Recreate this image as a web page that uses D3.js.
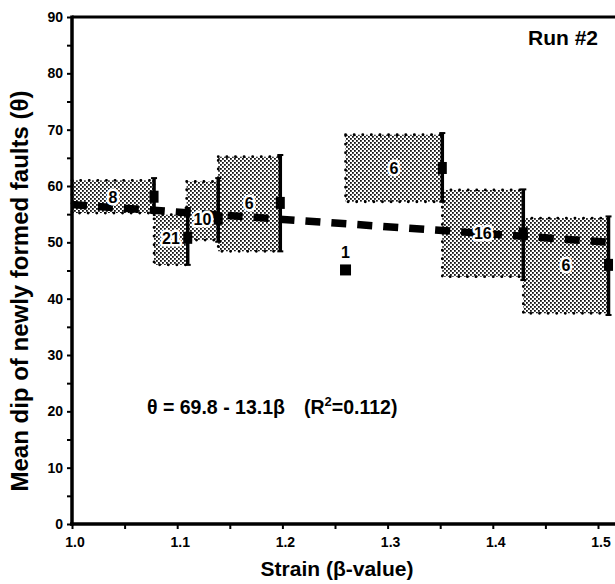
<!DOCTYPE html>
<html>
<head>
<meta charset="utf-8">
<script src="https://cdn.jsdelivr.net/npm/d3@7"></script>
<style>
  html, body { margin: 0; padding: 0; background: #fff; }
  svg { display: block; font-family: "Liberation Sans", Arial, Helvetica, sans-serif; font-weight: bold; }
</style>
</head>
<body>
<div id="chart"></div>
<script>
// Strain bins (β-value), box extents (θ), error bars, means, sample counts
var binStart = [1.000, 1.078, 1.109, 1.139, 1.260, 1.352, 1.429];
var binEnd   = [1.078, 1.110, 1.139, 1.198, 1.352, 1.429, 1.510];
var boxLow   = [55.2, 46.0, 50.4, 48.4, 57.2, 43.9, 37.4];
var boxHigh  = [61.0, 54.9, 60.8, 65.2, 69.1, 59.3, 54.3];
var errLow   = [55.2, 46.0, 50.1, 48.4, 57.2, 43.3, 37.1];
var errHigh  = [61.4, 56.1, 61.4, 65.5, 69.4, 59.4, 54.6];
var meanDip  = [58.1, 50.8, 54.2, 57.0, 63.2, 51.6, 46.0];
var counts   = ["8", "21", "10", "6", "6", "16", "6"];

// single-fault point
var singleBeta = [1.26];
var singleDip  = [45.1];
var singleCount = ["1"];

// regression θ = 69.8 - 13.1β
var fitIntercept = 69.8, fitSlope = -13.1;
var fitBeta = [1.0, 1.52];

var yTicks = [0, 10, 20, 30, 40, 50, 60, 70, 80, 90];
var xTicks = [1.0, 1.1, 1.2, 1.3, 1.4, 1.5];

var W = 615, H = 584;
var svg = d3.select("#chart").append("svg").attr("width", W).attr("height", H);

var x = d3.scaleLinear().domain([1.0, 1.5]).range([72, 598]);
var y = d3.scaleLinear().domain([0, 90]).range([524, 17]);

// stipple pattern
var defs = svg.append("defs");
var pat = defs.append("pattern").attr("id", "stip")
    .attr("patternUnits", "userSpaceOnUse").attr("width", 4).attr("height", 4);
pat.append("rect").attr("width", 4).attr("height", 4).attr("fill", "#fff");
pat.append("rect").attr("x", 0).attr("y", 0).attr("width", 1.8).attr("height", 1.8).attr("fill", "#111");
pat.append("rect").attr("x", 2).attr("y", 2).attr("width", 1.8).attr("height", 1.8).attr("fill", "#111");

var bins = binStart.map(function (b, i) {
    return { x0: b, x1: binEnd[i], lo: boxLow[i], hi: boxHigh[i],
             elo: errLow[i], ehi: errHigh[i], mean: meanDip[i], n: counts[i] };
});

// boxes
svg.append("g").selectAll("rect").data(bins).enter().append("rect")
    .attr("x", function (d) { return x(d.x0); })
    .attr("y", function (d) { return y(d.hi); })
    .attr("width", function (d) { return x(d.x1) - x(d.x0); })
    .attr("height", function (d) { return y(d.lo) - y(d.hi); })
    .attr("fill", "url(#stip)")
    .attr("stroke", "#000").attr("stroke-width", 2.8)
    .attr("stroke-linecap", "round")
    .attr("stroke-dasharray", "0.1,8.5");

// regression line
svg.append("path")
    .datum(fitBeta.map(function (b) { return [b, fitIntercept + fitSlope * b]; }))
    .attr("d", d3.line().x(function (d) { return x(d[0]); }).y(function (d) { return y(d[1]); }))
    .attr("fill", "none").attr("stroke", "#000")
    .attr("stroke-width", 7.5).attr("stroke-dasharray", "15,11");

// error bars
var eb = svg.append("g").selectAll("g").data(bins).enter().append("g");
eb.append("line")
    .attr("x1", function (d) { return x(d.x1); }).attr("x2", function (d) { return x(d.x1); })
    .attr("y1", function (d) { return y(d.ehi); }).attr("y2", function (d) { return y(d.elo); })
    .attr("stroke", "#000").attr("stroke-width", 3.5);
eb.selectAll(".cap").data(function (d) { return [[d.x1, d.ehi], [d.x1, d.elo]]; })
    .enter().append("line")
    .attr("x1", function (d) { return x(d[0]) - 3; }).attr("x2", function (d) { return x(d[0]) + 3; })
    .attr("y1", function (d) { return y(d[1]); }).attr("y2", function (d) { return y(d[1]); })
    .attr("stroke", "#000").attr("stroke-width", 2);

// mean markers
svg.append("g").selectAll("rect").data(bins).enter().append("rect")
    .attr("x", function (d) { return x(d.x1) - 4.5; })
    .attr("y", function (d) { return y(d.mean) - 6; })
    .attr("width", 9).attr("height", 12).attr("fill", "#000");

// counts
svg.append("g").selectAll("text").data(bins).enter().append("text")
    .attr("x", function (d) { return x((d.x0 + d.x1) / 2); })
    .attr("y", function (d) { return y(d.mean) + 6; })
    .attr("text-anchor", "middle").attr("font-size", 16)
    .attr("stroke", "#fff").attr("stroke-width", 5).attr("paint-order", "stroke")
    .attr("stroke-linejoin", "round")
    .text(function (d) { return d.n; });

// single point
svg.append("g").selectAll("rect").data(singleBeta).enter().append("rect")
    .attr("x", function (d) { return x(d) - 5.5; })
    .attr("y", function (d, i) { return y(singleDip[i]) - 5.5; })
    .attr("width", 11).attr("height", 11).attr("fill", "#000");
svg.append("g").selectAll("text").data(singleBeta).enter().append("text")
    .attr("x", function (d) { return x(d); })
    .attr("y", function (d, i) { return y(singleDip[i]) - 12; })
    .attr("text-anchor", "middle").attr("font-size", 16)
    .text(function (d, i) { return singleCount[i]; });

// frame: top border
svg.append("line").attr("x1", 72).attr("x2", W).attr("y1", y(90)).attr("y2", y(90))
    .attr("stroke", "#000").attr("stroke-width", 3);

// left axis
var gy = svg.append("g").attr("transform", "translate(72,0)");
gy.call(d3.axisLeft(y).tickValues(d3.range(0, 91, 5)).tickSize(5).tickFormat(""));
gy.select(".domain").remove();
gy.selectAll(".tick line").attr("stroke-width", 2);
gy.selectAll(".lab").data(yTicks).enter().append("text")
    .attr("x", -9).attr("y", function (d) { return y(d) + 5; })
    .attr("text-anchor", "end").attr("font-size", 14).attr("fill", "#000")
    .attr("font-weight", "bold")
    .attr("font-family", "'Liberation Sans', Arial, sans-serif")
    .text(function (d) { return d; });
gy.append("line").attr("x1", 0).attr("x2", 0).attr("y1", y(90) - 1.5).attr("y2", y(0) + 1.5)
    .attr("stroke", "#000").attr("stroke-width", 3.5);

// bottom axis
var gx = svg.append("g").attr("transform", "translate(0,524)");
gx.call(d3.axisBottom(x).tickValues(d3.range(1.0, 1.501, 0.05)).tickSize(5).tickFormat(""));
gx.select(".domain").remove();
gx.selectAll(".tick line").attr("stroke-width", 2);
gx.selectAll(".lab").data(xTicks).enter().append("text")
    .attr("x", function (d) { return x(d) + 3; }).attr("y", 23)
    .attr("text-anchor", "middle").attr("font-size", 14).attr("fill", "#000")
    .attr("font-weight", "bold")
    .attr("font-family", "'Liberation Sans', Arial, sans-serif")
    .text(function (d) { return d.toFixed(1); });
gx.append("line").attr("x1", 70).attr("x2", W).attr("y1", 0).attr("y2", 0)
    .attr("stroke", "#000").attr("stroke-width", 3.5);

// titles
svg.append("text").attr("x", 337).attr("y", 576).attr("text-anchor", "middle")
    .attr("font-size", 21).text("Strain (β-value)");
svg.append("text").attr("transform", "translate(28,291) rotate(-90)")
    .attr("text-anchor", "middle").attr("font-size", 24)
    .text("Mean dip of newly formed faults (θ)");
svg.append("text").attr("x", 598).attr("y", 45).attr("text-anchor", "end")
    .attr("font-size", 21).text("Run #2");

// equation
var eq = svg.append("text").attr("x", 147).attr("y", 414).attr("font-size", 19.5);
eq.append("tspan").text("θ = 69.8 - 13.1β");
eq.append("tspan").attr("x", 304).text("(R");
eq.append("tspan").attr("font-size", 13).attr("dy", -8).text("2");
eq.append("tspan").attr("dy", 8).text("=0.112)");
</script>
</body>
</html>
